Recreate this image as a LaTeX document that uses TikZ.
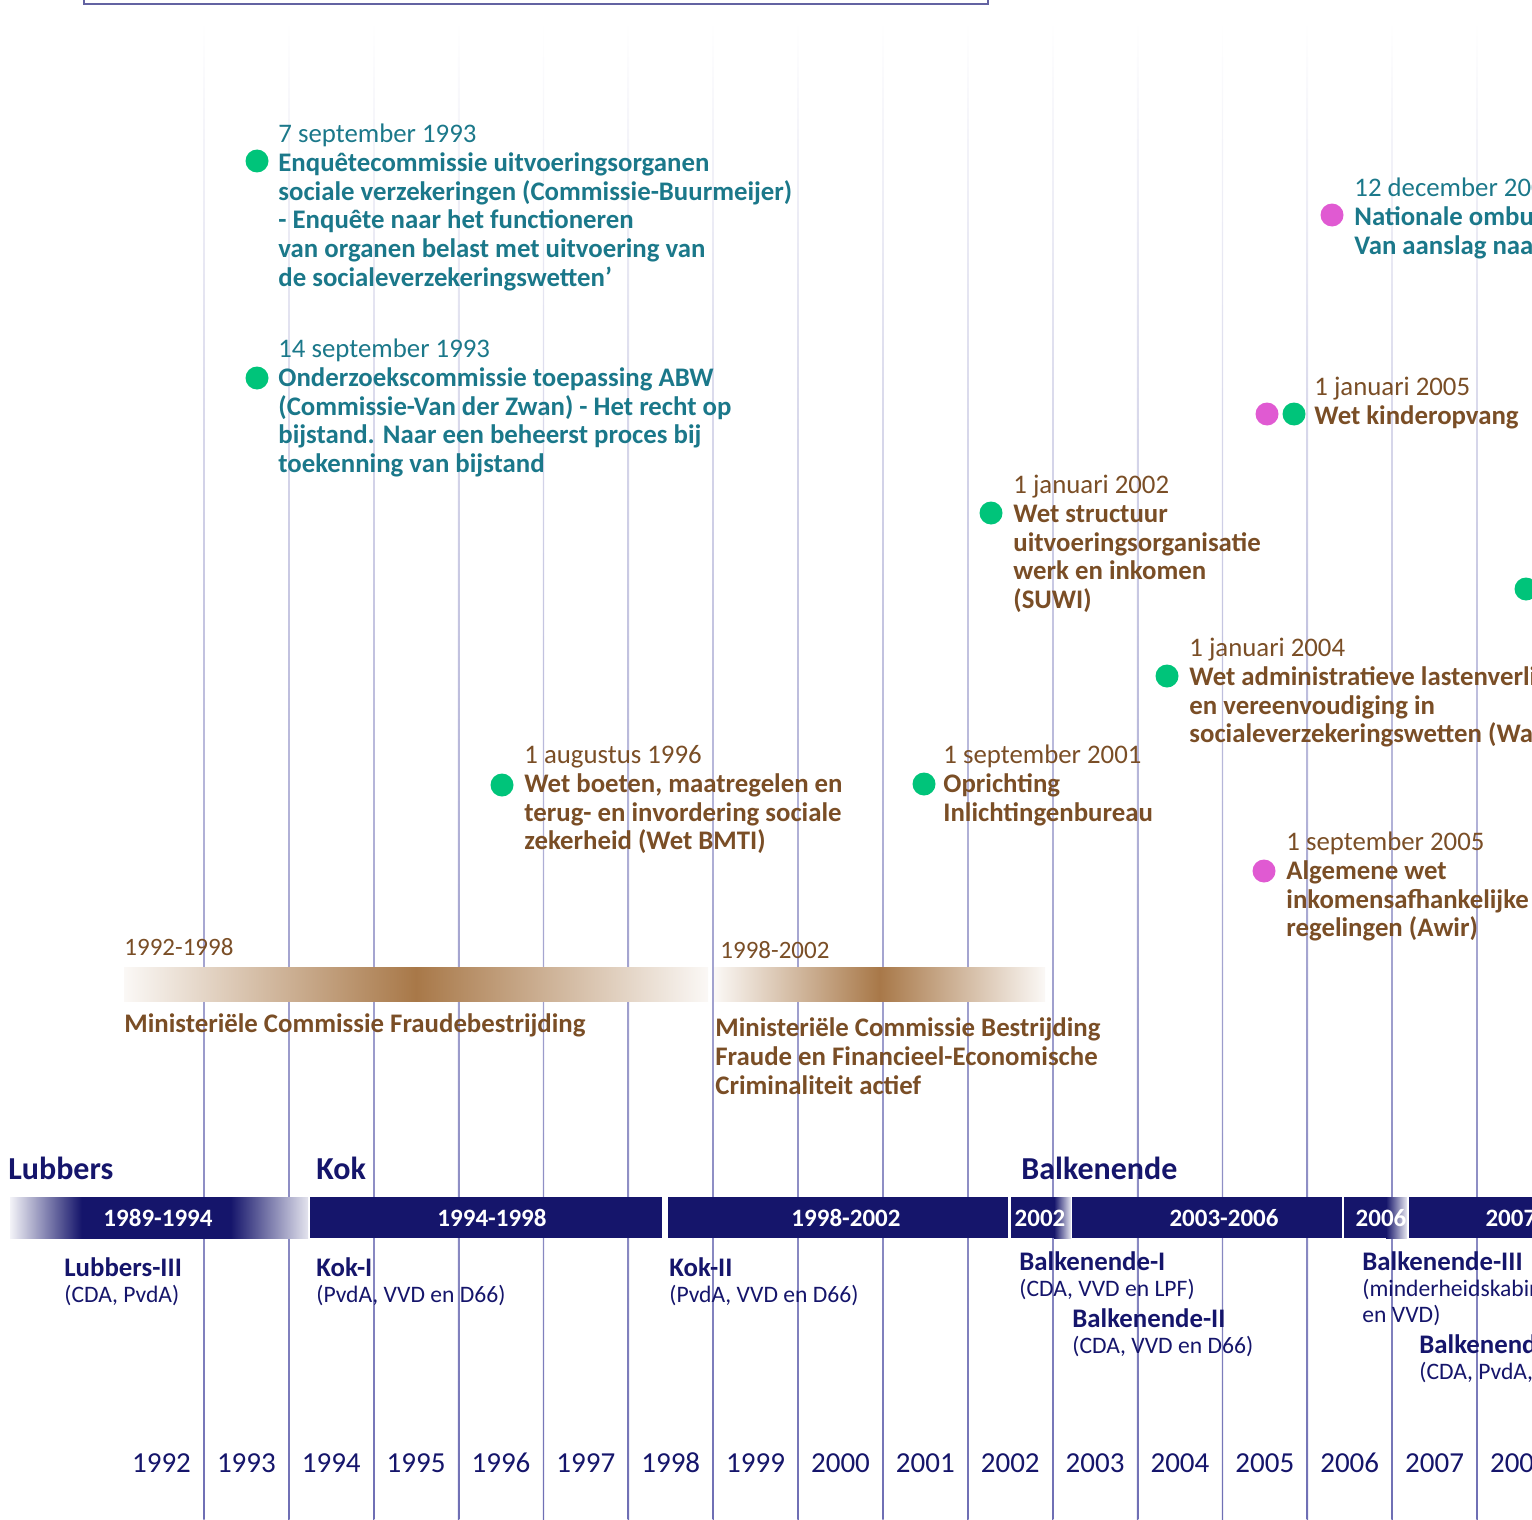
\documentclass[tikz,border=0pt]{standalone}
\usepackage{fontspec}
\setmainfont{Carlito}
\definecolor{kabinet}{RGB}{21,21,107}
\definecolor{enqcol}{RGB}{27,120,138}
\definecolor{wetcol}{RGB}{122,78,38}
\definecolor{balkcol}{RGB}{168,120,72}
\definecolor{groen}{RGB}{0,196,122}
\definecolor{roze}{RGB}{224,90,210}
\definecolor{lijn}{RGB}{110,110,180}
\pgfdeclarehorizontalshading{lubbersband}{100bp}{color(0bp)=(kabinet!5);
    color(25bp)=(kabinet!5); color(37bp)=(kabinet); color(62bp)=(kabinet);
    color(75bp)=(kabinet!12); color(100bp)=(kabinet!12)}
\pgfdeclarehorizontalshading{mcband}{100bp}{color(0bp)=(white);
    color(25bp)=(white!95!balkcol); color(50bp)=(balkcol);
    color(75bp)=(white!95!balkcol); color(100bp)=(white)}
\newcommand\kabnaam[1]{{\bfseries\fontsize{13.4}{13}\selectfont\strut #1}}
\tikzset{
    stip/.style={circle,fill=#1,minimum size=11.5pt,inner sep=0pt},
    feit/.style={anchor=north west,align=left,inner sep=0pt,text=#1,
        font=\fontsize{13.4}{14.4}\selectfont},
    label/.style={anchor=west,inner sep=0pt,text=wetcol,
        font=\fontsize{12.5}{14.4}\selectfont},
    kop/.style={anchor=west,inner sep=0pt,text=kabinet,
        font=\bfseries\fontsize{16}{19}\selectfont},
    periode/.style={text=white,inner sep=0pt,
        font=\bfseries\fontsize{12.5}{15}\selectfont},
    kabinetnaam/.style={anchor=north west,align=left,inner sep=0pt,text=kabinet,
        font=\fontsize{11.8}{13}\selectfont},
    jaar/.style={text=kabinet,inner sep=0pt,font=\fontsize{14.5}{16}\selectfont},
    kader/.style={draw=lijn!90!black,line width=0.75pt}
}
\begin{document}
\begin{tikzpicture}[x=0.5pt,y=-0.5pt]
    \useasboundingbox (0,0) rectangle (1532,1520);
    \clip (0,0) rectangle (1532,1520);
    % jaarlijnen
    \foreach \i in {0,...,15}
    {
        \shade[top color=white,middle color=lijn!40,bottom color=lijn]
            ({204+84.87*\i-0.7},20) rectangle ({204+84.87*\i+0.7},1520);
    }
    \draw[kader] (84,-20) rectangle (988,4);
    % gebeurtenissen
    \node[stip=groen] (d1) at (257,161) {};
    \node[feit=enqcol] (e1) at (278,122) {\strut 7 september 1993\\
        \textbf{Enquêtecommissie uitvoeringsorganen}\\
        \textbf{sociale verzekeringen (Commissie-Buurmeijer)}\\
        \textbf{- Enquête naar het functioneren}\\
        \textbf{van organen belast met uitvoering van}\\
        \textbf{de socialeverzekeringswetten’}};
    \node[stip=groen] (d2) at (257,378) {};
    \node[feit=enqcol] (e2) at (278,337) {\strut 14 september 1993\\
        \textbf{Onderzoekscommissie toepassing ABW}\\
        \textbf{(Commissie-Van der Zwan) - Het recht op}\\
        \textbf{bijstand. Naar een beheerst proces bij}\\
        \textbf{toekenning van bijstand}};
    \node[stip=roze] (d3) at (1332,215) {};
    \node[feit=enqcol] (e3) at (1354,176) {\strut 12 december 2006\\
        \textbf{Nationale ombudsman}\\
        \textbf{Van aanslag naar toeslag}};
    \node[stip=roze] (d4a) at (1267,414) {};
    \node[stip=groen] (d4b) at (1294,414) {};
    \node[feit=wetcol] (e4) at (1314,375) {\strut 1 januari 2005\\
        \textbf{Wet kinderopvang}};
    \node[stip=groen] (d5) at (991,513) {};
    \node[feit=wetcol] (e5) at (1013,473) {\strut 1 januari 2002\\
        \textbf{Wet structuur}\\
        \textbf{uitvoeringsorganisatie}\\
        \textbf{werk en inkomen}\\
        \textbf{(SUWI)}};
    \node[stip=groen] (d6) at (1526,589) {};
    \node[stip=groen] (d7) at (1167,676) {};
    \node[feit=wetcol] (e7) at (1189,636) {\strut 1 januari 2004\\
        \textbf{Wet administratieve lastenverlichting}\\
        \textbf{en vereenvoudiging in}\\
        \textbf{socialeverzekeringswetten (Walvis)}};
    \node[stip=groen] (d8) at (502,785) {};
    \node[feit=wetcol] (e8) at (524,743) {\strut 1 augustus 1996\\
        \textbf{Wet boeten, maatregelen en}\\
        \textbf{terug- en invordering sociale}\\
        \textbf{zekerheid (Wet BMTI)}};
    \node[stip=groen] (d9) at (924,784) {};
    \node[feit=wetcol] (e9) at (943,743) {\strut 1 september 2001\\
        \textbf{Oprichting}\\
        \textbf{Inlichtingenbureau}};
    \node[stip=roze] (d10) at (1264,871) {};
    \node[feit=wetcol] (e10) at (1286,830) {\strut 1 september 2005\\
        \textbf{Algemene wet}\\
        \textbf{inkomensafhankelijke}\\
        \textbf{regelingen (Awir)}};
    % ministeriele commissies
    \shade[shading=mcband] (124,967) rectangle (708,1001);
    \shade[shading=mcband] (714,967) rectangle (1045,1001);
    \node[label] (mc1) at (124,947) {1992-1998};
    \node[label,anchor=base west,font=\fontsize{13.4}{14.4}\selectfont] (mc1t)
        at (124,1032) {\textbf{Ministeriële Commissie Fraudebestrijding}};
    \node[label] (mc2) at (720,950) {1998-2002};
    \node[feit=wetcol] (mc2t) at (715,1016)
        {\strut\textbf{Ministeriële Commissie Bestrijding}\\
        \textbf{Fraude en Financieel-Economische}\\
        \textbf{Criminaliteit actief}};
    % kabinetten
    \node[kop] (lubbers) at (8,1168) {Lubbers};
    \node[kop] (kok) at (316,1168) {Kok};
    \node[kop] (balkenende) at (1021,1168) {Balkenende};
    \shade[shading=lubbersband] (10,1197) rectangle (308,1238);
    \fill[kabinet] (310,1197) rectangle (662,1238);
    \fill[kabinet] (668,1197) rectangle (1008,1238);
    \fill[kabinet] (1011,1197) rectangle (1055,1238);
    \shade[left color=kabinet,right color=kabinet!10] (1054,1197) rectangle (1071,1238);
    \fill[kabinet] (1072,1197) rectangle (1342,1238);
    \fill[kabinet] (1344,1197) rectangle (1387,1238);
    \shade[left color=kabinet,right color=kabinet!10] (1386,1197) rectangle (1407,1238);
    \fill[kabinet] (1409,1197) rectangle (1532,1238);
    \foreach \x/\t [count=\n] in {158/1989-1994,492/1994-1998,846/1998-2002,
        1040/2002,1224/2003-2006,1381/2006,1540/2007-2010}
    {
        \node[periode] (p\n) at (\x,1218) {\t};
    }
    \node[kabinetnaam] (lubbers3) at (64,1257) {\kabnaam{Lubbers-III}\\(CDA, PvdA)};
    \node[kabinetnaam] (kok1) at (316,1257) {\kabnaam{Kok-I}\\(PvdA, VVD en D66)};
    \node[kabinetnaam] (kok2) at (669,1257) {\kabnaam{Kok-II}\\(PvdA, VVD en D66)};
    \node[kabinetnaam] (balk1) at (1019,1251) {\kabnaam{Balkenende-I}\\(CDA, VVD en LPF)};
    \node[kabinetnaam] (balk2) at (1072,1308) {\kabnaam{Balkenende-II}\\(CDA, VVD en D66)};
    \node[kabinetnaam] (balk3) at (1362,1251)
        {\kabnaam{Balkenende-III}\\(minderheidskabinet CDA\\en VVD)};
    \node[kabinetnaam] (balk4) at (1419,1334)
        {\kabnaam{Balkenende-IV}\\(CDA, PvdA, ChristenUnie)};
    % jaartallen
    \foreach \j in {1992,...,2008}
    {
        \node[jaar] (j\j) at ({204+84.87*(\j-1993)+42.4},1463) {\j};
    }
\end{tikzpicture}
\end{document}
